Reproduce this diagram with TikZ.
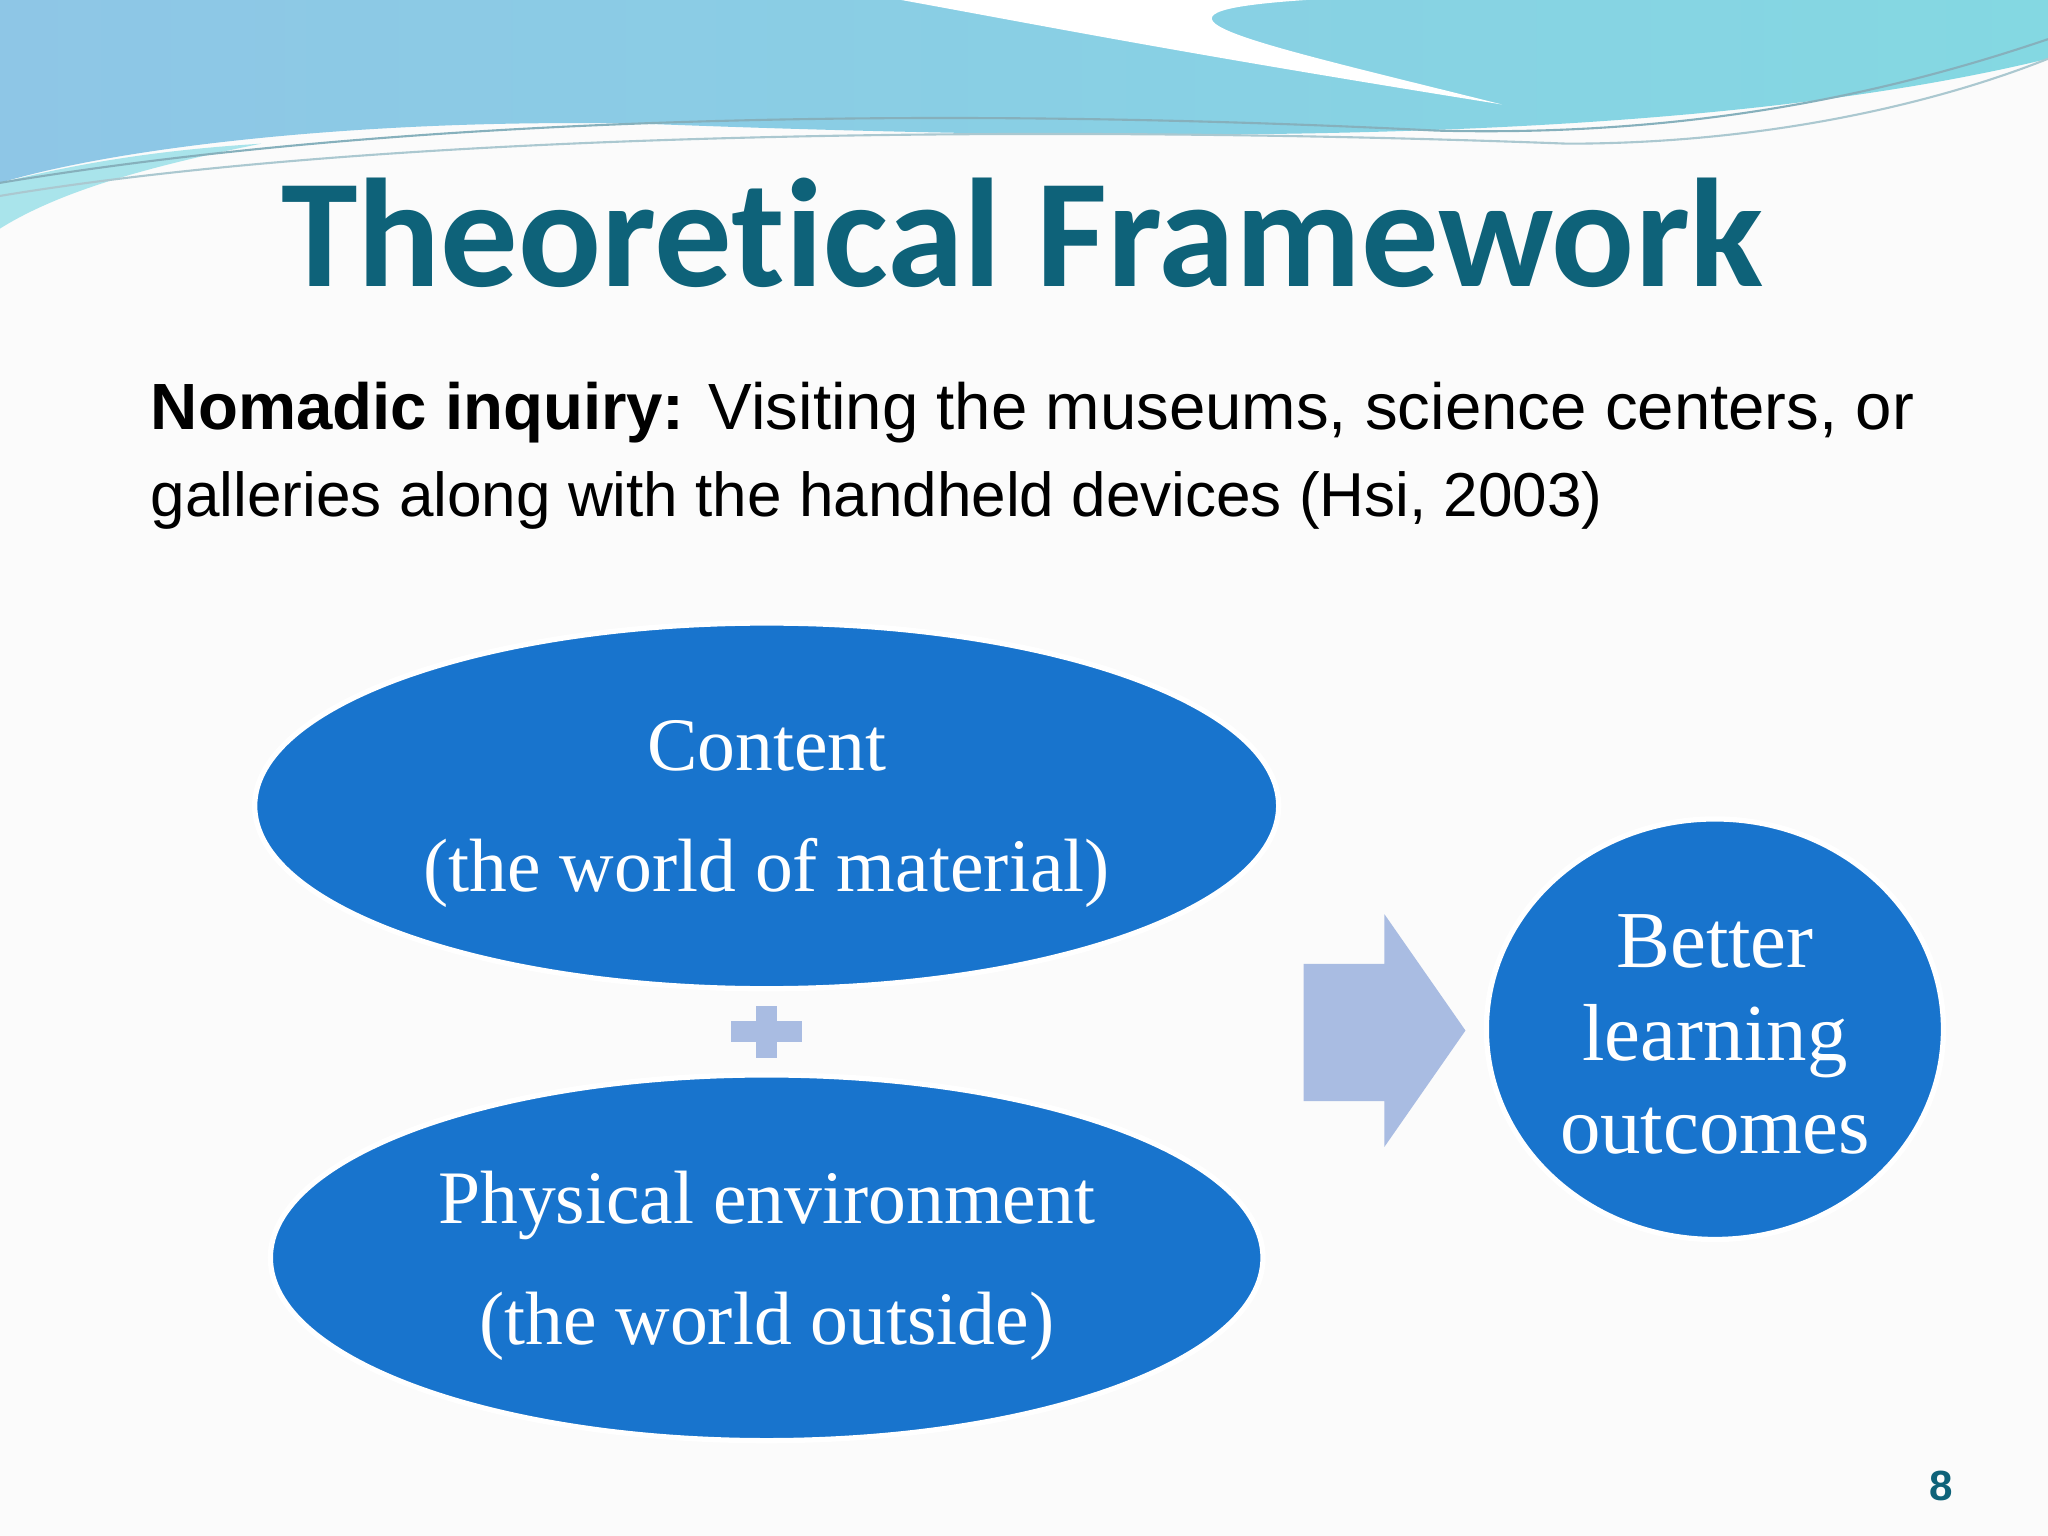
\documentclass[tikz,border=0pt]{standalone}
\usepackage{fontspec}
\setmainfont{Liberation Serif}
\newfontfamily\calib{Carlito}
\newfontfamily\arial{Liberation Sans}
\usetikzlibrary{shapes.geometric}
\definecolor{teal}{HTML}{0E6279}
\definecolor{blu}{HTML}{1874CD}
\definecolor{lb}{HTML}{A9BCE2}
\definecolor{skyA}{HTML}{8EC6E6}
\definecolor{skyB}{HTML}{84D8E2}
\begin{document}
\begin{tikzpicture}[x=0.013061cm,y=-0.013061cm,
  blob/.style={fill=blu,draw=white,line width=1.5pt},
  etxt/.style={text=white,font=\fontsize{21.5}{27}\selectfont,align=center,inner sep=0pt}]
\useasboundingbox (0,0) rectangle (1568,1176);
\fill[white!97!gray] (0,0) rectangle (1568,1176);
% header wave
\shade[left color=skyA, right color=skyB]
 (0,0) -- (1568,0) -- (1568,45) .. controls (1300,110) and (900,110) .. (500,95) .. controls (300,90) and (100,110) .. (0,140) -- cycle;
\fill[skyB!70!white] (0,140) .. controls (60,125) and (120,115) .. (200,110) .. controls (100,130) and (40,150) .. (0,175) -- cycle;
\fill[white] (690,0) .. controls (800,20) and (900,40) .. (1150,80) .. controls (950,30) and (850,10) .. (1000,0) -- cycle;
\draw[teal!50,line width=0.6pt] (0,140) .. controls (300,90) and (700,80) .. (1100,100) .. controls (1300,105) and (1450,70) .. (1568,30);
\draw[teal!35,line width=0.6pt] (0,150) .. controls (300,100) and (800,95) .. (1200,110) .. controls (1350,110) and (1480,80) .. (1568,45);
% title
\node[font=\calib\bfseries\fontsize{44}{50}\selectfont,text=teal] (title) at (783,178) {Theoret\kern0pt ical Framework};
% body
\node[anchor=west,font=\arial\fontsize{18.5}{22}\selectfont,inner sep=0pt] (l1) at (115,316) {\resizebox{17.63cm}{!}{\textbf{Nomadic inquiry:} Visiting the museums, science centers, or}};
\node[anchor=west,font=\arial\fontsize{18.5}{22}\selectfont,inner sep=0pt] (l2) at (115,383) {\resizebox{14.52cm}{!}{galleries along with the handheld devices (Hsi, 2003)}};
% ellipses
\draw[blob] (587,617) ellipse [x radius=392, y radius=140];
\node[etxt] (c) at (587,623) {Content\\[0.35em](the world of material)};
\draw[blob] (587,963) ellipse [x radius=380, y radius=140];
\node[etxt] (p) at (587,969) {Physical environment\\[0.35em](the world outside)};
\draw[blob] (1313,788) ellipse [x radius=175, y radius=161];
\node[etxt,font=\fontsize{23}{26.5}\selectfont] (o) at (1313,792) {Better\\learning\\outcomes};
% plus
\fill[lb] (560,782) rectangle (614,798);
\fill[lb] (579,770) rectangle (595,810);
\coordinate (plus) at (587,790);
% arrow
\fill[lb] (998,738) -- (1060,738) -- (1060,700) -- (1122,789) -- (1060,878) -- (1060,843) -- (998,843) -- cycle;
% page
\node[font=\arial\bfseries\fontsize{12}{14}\selectfont,text=teal] (pg) at (1486,1138) {8};
\end{tikzpicture}
\end{document}
